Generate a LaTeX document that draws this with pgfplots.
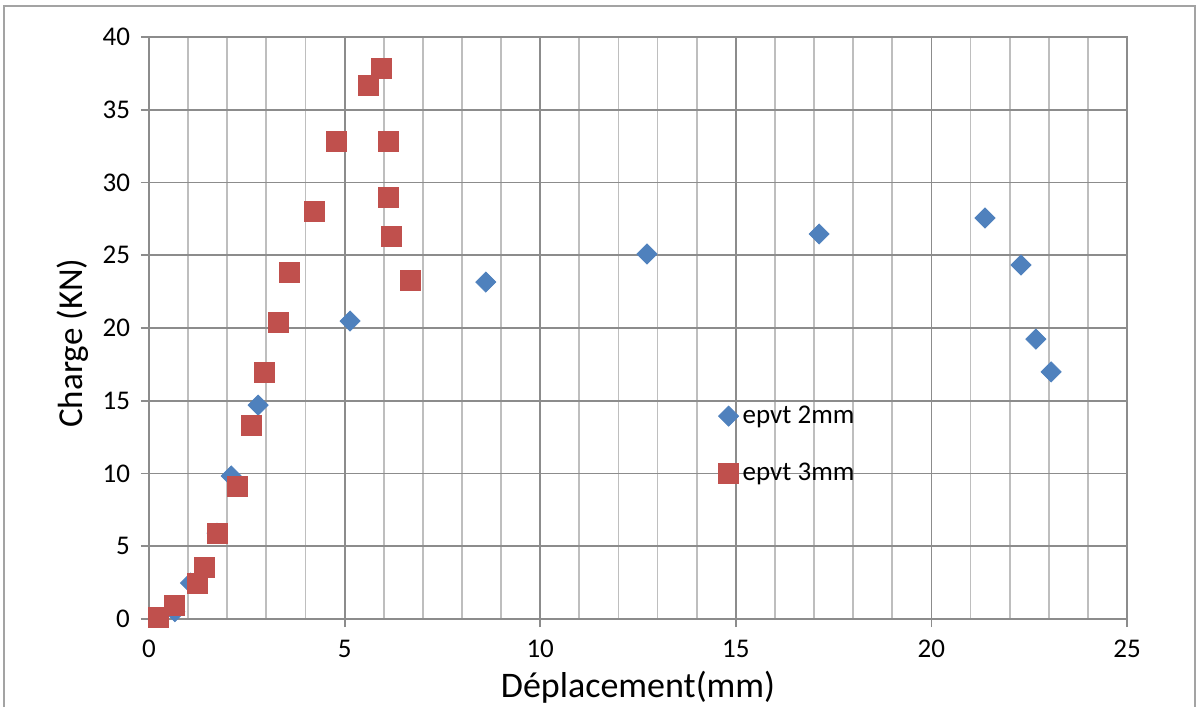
\documentclass[border=0pt]{standalone}
\usepackage{pgfplots}
\pgfplotsset{compat=1.18}
\usepackage{fontspec}
\setmainfont{Carlito}
\definecolor{bluem}{HTML}{4F81BD}
\definecolor{redm}{HTML}{C0504D}
\definecolor{majg}{HTML}{8C8C8C}
\definecolor{ming}{HTML}{BEBEBE}
\begin{document}
\begin{tikzpicture}
\path[use as bounding box] (-74.5pt,-44pt) rectangle (524.5pt,309.5pt);
\begin{axis}[
  scale only axis,
  width=489pt, height=291pt,
  xmin=0, xmax=25, ymin=0, ymax=40,
  xtick={0,5,...,25}, ytick={0,5,...,40},
  minor xtick={1,2,3,4,6,7,8,9,11,12,13,14,16,17,18,19,21,22,23,24},
  grid=both,
  major grid style={draw=majg, line width=0.9pt},
  minor grid style={draw=ming, line width=0.9pt},
  axis line style={draw=majg, line width=0.9pt},
  tick style={draw=majg, line width=0.9pt},
  tick pos=left, tick align=outside,
  major tick length=4pt, minor tick length=0pt,
  tick label style={font=\fontsize{13.5}{15}\selectfont},
  /pgf/number format/assume math mode=true,
  xticklabel style={yshift=-3pt},
  yticklabel style={xshift=-2pt},
  xlabel={Déplacement(mm)},
  ylabel={Charge (KN)},
  xlabel style={font=\fontsize{18}{20}\selectfont, at={(axis description cs:0.5,-0.117)}, anchor=center},
  ylabel style={font=\fontsize{17.5}{20}\selectfont, at={(axis description cs:-0.0777,0.474)}, anchor=center},
  legend style={at={(axis cs:14.55,14.95)}, anchor=north west, draw=none, fill=none,
    font=\fontsize{13.5}{15}\selectfont, row sep=14.5pt, inner sep=0pt},
  legend cell align=left,
]
\addplot[only marks, mark=square*, mark size=3.54pt, mark options={rotate=45, fill=bluem, draw=bluem}] coordinates {
(0.66,0.5) (1.06,2.47) (1.74,5.9) (2.10,9.83) (2.79,14.7) (5.14,20.48)
(8.61,23.16) (12.73,25.09) (17.13,26.46) (21.37,27.56) (22.29,24.33) (22.67,19.24) (23.06,16.98)
};
\addlegendentry{epvt 2mm}
\addplot[only marks, mark=square*, mark size=5pt, mark options={fill=redm, draw=redm}] coordinates {
(0.23,0.14) (0.66,0.96) (1.23,2.47) (1.41,3.57) (1.76,5.91) (2.25,9.14) (2.63,13.33)
(2.94,16.98) (3.30,20.41) (3.58,23.85) (4.22,28.04) (4.78,32.85) (5.62,36.70) (5.93,37.87)
(6.11,32.85) (6.11,29.0) (6.19,26.32) (6.67,23.30)
};
\addlegendentry{epvt 3mm}
\end{axis}
\draw[majg!80, line width=1pt] (-72.5pt,-44pt) -- (-72.5pt,306.5pt) -- (523pt,306.5pt) -- (523pt,-44pt);
\end{tikzpicture}
\end{document}
